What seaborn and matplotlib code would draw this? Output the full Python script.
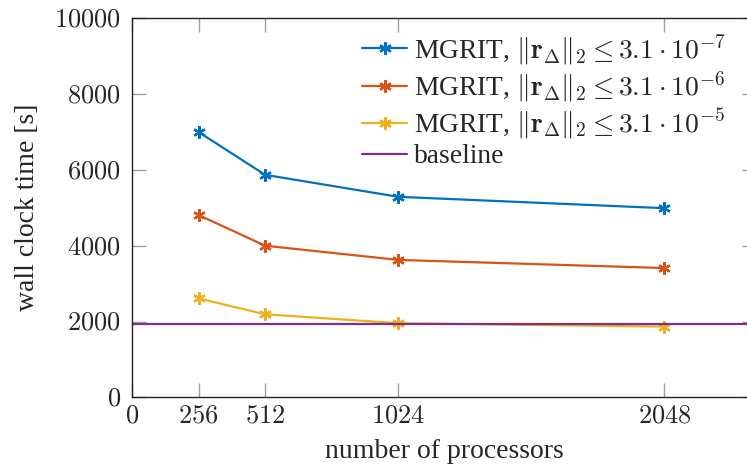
import matplotlib
matplotlib.use("Agg")
import matplotlib.pyplot as plt
import seaborn as sns
import pandas as pd

# Processor counts and measured wall clock times (seconds)
processors = [256, 512, 1024, 2048]
time_tol_7 = [7000, 5870, 5290, 4990]
time_tol_6 = [4810, 4000, 3625, 3410]
time_tol_5 = [2610, 2190, 1955, 1865]
baseline_time = 1935

series_labels = [
    r"MGRIT, $\Vert\mathbf{r}_\Delta\Vert_2 \leq 3.1\cdot 10^{-7}$",
    r"MGRIT, $\Vert\mathbf{r}_\Delta\Vert_2 \leq 3.1\cdot 10^{-6}$",
    r"MGRIT, $\Vert\mathbf{r}_\Delta\Vert_2 \leq 3.1\cdot 10^{-5}$",
]
baseline_label = "baseline"
series_colors = ["#0072BD", "#D95319", "#EDB120"]
baseline_color = "#7E2F8E"

x_ticks = [0, 256, 512, 1024, 2048]
y_ticks = [0, 2000, 4000, 6000, 8000, 10000]

sns.set_theme(style="ticks")
plt.rcParams["font.family"] = ["Liberation Serif", "DejaVu Serif"]
plt.rcParams["mathtext.fontset"] = "cm"

df = pd.concat(
    [
        pd.DataFrame({"processors": processors, "time": vals, "run": lab})
        for vals, lab in zip([time_tol_7, time_tol_6, time_tol_5], series_labels)
    ],
    ignore_index=True,
)

fig = plt.figure(figsize=(7.47, 4.69), dpi=100)
ax = fig.add_axes([132 / 747, 1 - 397.3 / 469, 624 / 747, (397.3 - 18.3) / 469])

sns.lineplot(
    data=df, x="processors", y="time", hue="run", hue_order=series_labels,
    palette=series_colors, errorbar=None, legend=False, ax=ax,
    linewidth=1.6, marker=(6, 2, 0), markersize=9,
)
lines = list(ax.lines)
for line, lab in zip(lines, series_labels):
    line.set_markeredgecolor(line.get_color())
    line.set_markeredgewidth(1.6)
    line.set_label(lab)

base = ax.axhline(baseline_time, color=baseline_color, linewidth=1.6, label=baseline_label)

ax.set_xlim(0, 2400)
ax.set_ylim(0, 10000)
ax.set_xticks(x_ticks, labels=[f"${t}$" for t in x_ticks])
ax.set_yticks(y_ticks, labels=[f"${t}$" for t in y_ticks])
ax.tick_params(axis="both", direction="in", length=10, width=1, color="#a0a0a0",
               labelsize=19, top=True, right=True)
ax.tick_params(axis="x", pad=6)
ax.tick_params(axis="y", pad=8)
for sp in ax.spines.values():
    sp.set_color("#222222")
    sp.set_linewidth(1.0)

ax.set_xlabel("number of processors", fontsize=20, labelpad=8)
ax.set_ylabel("wall clock time [s]", fontsize=20, labelpad=10)

ax.legend(
    handles=lines + [base], frameon=False, fontsize=19.8,
    loc="upper left", bbox_to_anchor=(362 / 747, 1 - 32 / 469),
    bbox_transform=fig.transFigure, borderpad=0, borderaxespad=0,
    handlelength=1.65, handletextpad=0.25, labelspacing=0.06,
)

fig.savefig("out.png", dpi=100)
